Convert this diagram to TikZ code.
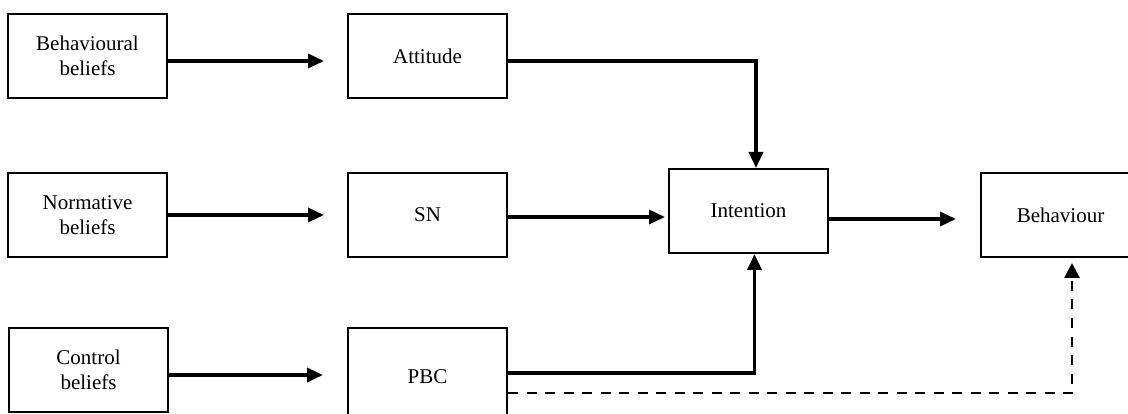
\documentclass[tikz,border=0pt]{standalone}
\usepackage{fontspec}
\setmainfont{Liberation Serif}
\usetikzlibrary{arrows.meta}
\begin{document}
\begin{tikzpicture}[x=1pt,y=-1pt,
  box/.style={draw,line width=2pt,minimum width=159pt,minimum height=84pt,inner sep=0pt,align=center,font=\fontsize{21}{25}\selectfont},
  arr/.style={line width=3.4pt,-{Triangle[length=16pt,width=14pt]}},
  darr/.style={line width=2.8pt,dash pattern=on 10pt off 8.5pt,-{Triangle[length=15pt,width=15pt]}}]
\useasboundingbox (0,0) rectangle (1128,414);
\clip (0,0) rectangle (1128,414);
\node[box] (bb) at (87.5,56) {Behavioural\\beliefs};
\node[box] (att) at (427.5,56) {Attitude};
\node[box] (nb) at (87.5,215) {Normative\\beliefs};
\node[box] (sn) at (427.5,215) {SN};
\node[box] (cb) at (88.5,370) {Control\\beliefs};
\node[box,minimum height=98pt] (pbc) at (427.5,377) {PBC};
\node[box] (int) at (748.5,211) {Intention};
\node[box] (beh) at (1060.5,215) {Behaviour};
\draw[arr,shorten >=23pt] ([yshift=-5pt]bb.east) -- ([yshift=-5pt]att.west);
\draw[arr,shorten >=23pt] (nb.east) -- (sn.west);
\draw[arr,shorten >=24pt] ([yshift=-5pt]cb.east) -- ([yshift=-5pt]cb.east -| pbc.west);
\draw[arr] ([yshift=-5pt]att.east) -| ([xshift=7.5pt]int.north);
\draw[arr,shorten >=3pt] ([yshift=-2pt]sn.east) -- ([yshift=-2pt]sn.east -| int.west);
\draw[arr,shorten >=24pt] ([yshift=-8pt]int.east) -- ([yshift=-8pt]int.east -| beh.west);
\draw[arr] ([yshift=4pt]pbc.east) -| ([xshift=6pt]int.south);
\draw[darr,shorten >=5pt] ([yshift=-16pt]pbc.east) -| ([xshift=11.5pt]beh.south);
\end{tikzpicture}
\end{document}
